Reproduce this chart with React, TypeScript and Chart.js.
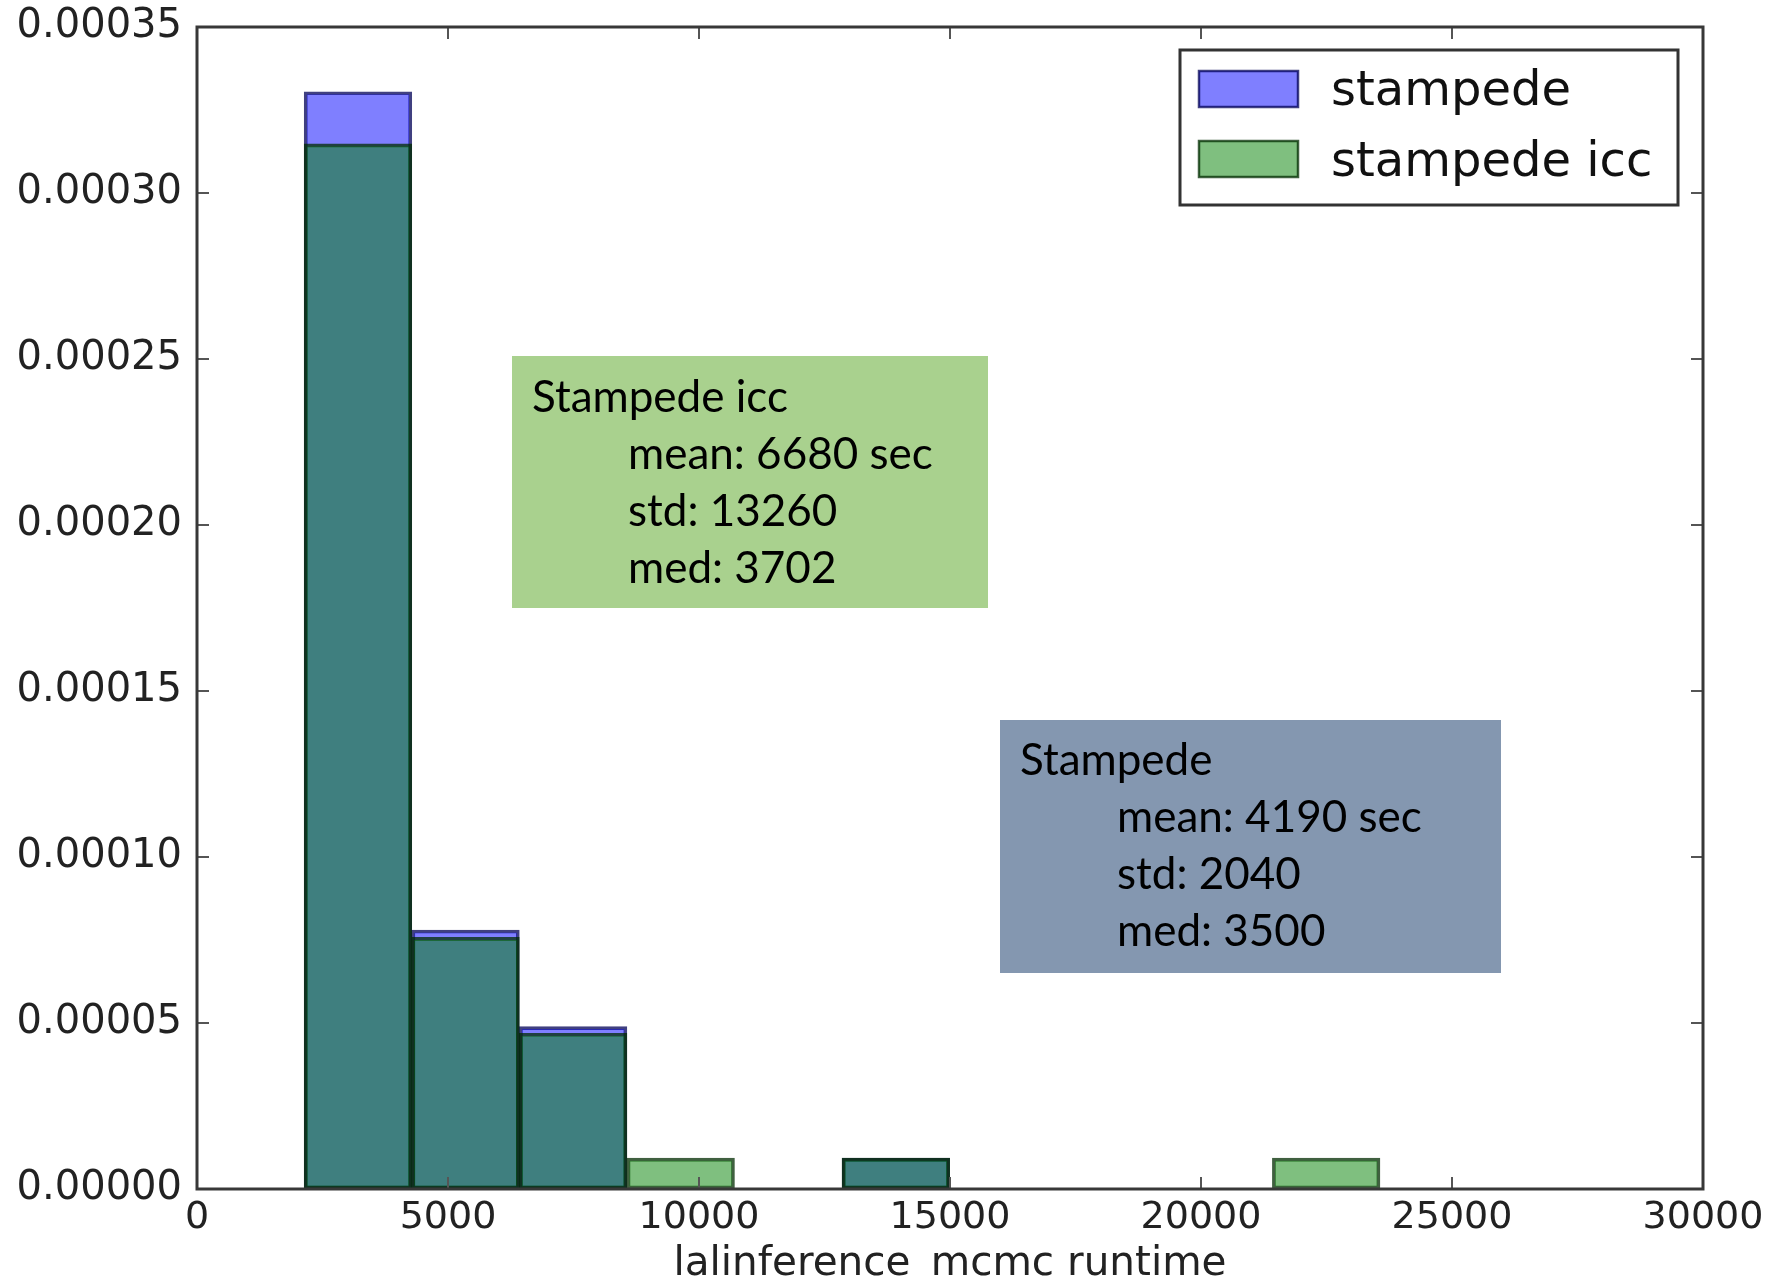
import React, { useEffect, useRef } from "react";
import { Chart, registerables } from "chart.js";

Chart.register(...registerables);

// ---- data ----
const binEdges = [2135, 4278, 6421, 8564, 10707, 12850, 14993, 17136, 19279, 21422, 23565];
const stampedeDensity = [0.0003305, 0.000078, 0.0000489, 0, 0, 0.0000093, 0, 0, 0, 0];
const stampedeIccDensity = [0.0003148, 0.0000758, 0.0000469, 0.0000093, 0, 0.0000093, 0, 0, 0, 0.0000093];
const seriesLabels = ["stampede", "stampede icc"];
const xTicks = [0, 5000, 10000, 15000, 20000, 25000, 30000];
const yTicks = [0, 0.00005, 0.0001, 0.00015, 0.0002, 0.00025, 0.0003, 0.00035];
const xTitle = "lalinference_mcmc runtime";
const iccStats = ["Stampede icc", "mean: 6680 sec", "std: 13260", "med: 3702"];
const stampedeStats = ["Stampede", "mean: 4190 sec", "std: 2040", "med: 3500"];

const TICK_FONT = "DejaVu Sans";
const NOTE_FONT = '"Lato", "Open Sans", sans-serif';

const fills = ["rgba(0,0,255,0.5)", "rgba(0,128,0,0.5)"];
const edges = ["rgba(0,0,85,0.75)", "rgba(0,43,0,0.75)"];
// lower order is painted last (on top): green over blue
const drawOrder = [1, 0];

const decorPlugin = {
  id: "decor",
  afterDatasetsDraw(chart: any) {
    const { ctx, chartArea: a, scales } = chart;
    ctx.save();
    ctx.strokeStyle = "#555";
    ctx.lineWidth = 2;
    const L = 12;
    scales.x.ticks.forEach((t: any) => {
      const px = scales.x.getPixelForValue(t.value);
      ctx.beginPath();
      ctx.moveTo(px, a.bottom);
      ctx.lineTo(px, a.bottom - L);
      ctx.moveTo(px, a.top);
      ctx.lineTo(px, a.top + L);
      ctx.stroke();
    });
    scales.y.ticks.forEach((t: any) => {
      const py = scales.y.getPixelForValue(t.value);
      ctx.beginPath();
      ctx.moveTo(a.left, py);
      ctx.lineTo(a.left + L, py);
      ctx.moveTo(a.right, py);
      ctx.lineTo(a.right - L, py);
      ctx.stroke();
    });
    ctx.strokeStyle = "#383838";
    ctx.lineWidth = 3;
    ctx.strokeRect(a.left, a.top, a.right - a.left, a.bottom - a.top);
    ctx.restore();
  },
  afterDraw(chart: any) {
    const { ctx } = chart;
    ctx.save();
    // legend
    ctx.fillStyle = "#fff";
    ctx.fillRect(1180, 50, 498, 155);
    ctx.strokeStyle = "#333";
    ctx.lineWidth = 3;
    ctx.strokeRect(1180, 50, 498, 155);
    const patchY = [71, 141];
    const textY = [105, 176];
    chart.data.datasets.forEach((ds: any, i: number) => {
      ctx.fillStyle = ds.backgroundColor;
      ctx.fillRect(1199, patchY[i], 99, 36);
      ctx.strokeStyle = ds.borderColor;
      ctx.lineWidth = 2.5;
      ctx.strokeRect(1199, patchY[i], 99, 36);
      ctx.fillStyle = "#111";
      ctx.font = `48px "${TICK_FONT}"`;
      ctx.textBaseline = "alphabetic";
      ctx.textAlign = "left";
      ctx.fillText(ds.label, 1331, textY[i]);
    });
    // annotation boxes
    const box = (x: number, y: number, w: number, h: number, color: string, lines: string[], base: number[], x0: number, x1: number) => {
      ctx.fillStyle = color;
      ctx.fillRect(x, y, w, h);
      ctx.fillStyle = "#000";
      ctx.font = `44px ${NOTE_FONT}`;
      ctx.textBaseline = "alphabetic";
      ctx.textAlign = "left";
      lines.forEach((s, i) => ctx.fillText(s, i === 0 ? x0 : x1, base[i]));
    };
    box(512, 356, 476, 252, "#a9d18e", iccStats, [412, 469, 526, 583], 532, 628);
    box(1000, 720, 501, 253, "#8497b0", stampedeStats, [775, 832, 889, 946], 1020, 1117);
    ctx.restore();
  },
};

export default function App() {
  const ref = useRef<HTMLCanvasElement>(null);
  useEffect(() => {
    const centers = binEdges.slice(0, -1).map((e, i) => (e + binEdges[i + 1]) / 2);
    const toPoints = (vals: number[]) => vals.map((v, i) => ({ x: centers[i], y: v > 0 ? v : null }));
    const series = [stampedeDensity, stampedeIccDensity];
    const chart = new Chart(ref.current as HTMLCanvasElement, {
      type: "bar",
      data: {
        datasets: series.map((vals, i) => ({
          label: seriesLabels[i],
          data: toPoints(vals),
          backgroundColor: fills[i],
          borderColor: edges[i],
          borderWidth: 3,
          borderSkipped: false,
          grouped: false,
          order: drawOrder[i],
          barPercentage: 1,
          categoryPercentage: 1,
        })) as any,
      },
      options: {
        animation: false,
        responsive: false,
        devicePixelRatio: 1,
        layout: { padding: { top: 27, right: 84, bottom: 0, left: 0 } },
        plugins: { legend: { display: false }, tooltip: { enabled: false } },
        scales: {
          x: {
            type: "linear",
            min: 0,
            max: 30000,
            offset: false,
            grid: { display: false, drawTicks: false },
            border: { display: false },
            ticks: {
              font: { family: TICK_FONT, size: 38 },
              color: "#222",
              padding: 6,
              maxRotation: 0,
              autoSkip: false,
              callback: (v: any) => String(v),
            },
            afterBuildTicks: (s: any) => {
              s.ticks = xTicks.map((v) => ({ value: v }));
            },
            afterFit: (s: any) => {
              s.height = 93;
              s.paddingLeft = 0;
              s.paddingRight = 0;
            },
            title: {
              display: true,
              text: xTitle,
              font: { family: TICK_FONT, size: 40.5, lineHeight: 0.889 },
              color: "#222",
              padding: 0,
            },
          },
          y: {
            type: "linear",
            min: 0,
            max: 0.00035,
            grid: { display: false, drawTicks: false },
            border: { display: false },
            ticks: {
              font: { family: TICK_FONT, size: 40 },
              color: "#222",
              padding: 15,
              autoSkip: false,
              callback: (v: any) => Number(v).toFixed(5),
            },
            afterBuildTicks: (s: any) => {
              s.ticks = yTicks.map((v) => ({ value: v }));
            },
            afterFit: (s: any) => {
              s.width = 197;
              s.paddingTop = 0;
              s.paddingBottom = 0;
            },
          },
        },
      } as any,
      plugins: [decorPlugin],
    });
    return () => chart.destroy();
  }, []);
  return (
    <div style={{ position: "absolute", left: 0, top: 0, width: 1787, height: 1282, background: "#fff" }}>
      <canvas ref={ref} width={1787} height={1282} style={{ width: 1787, height: 1282, display: "block" }} />
    </div>
  );
}
